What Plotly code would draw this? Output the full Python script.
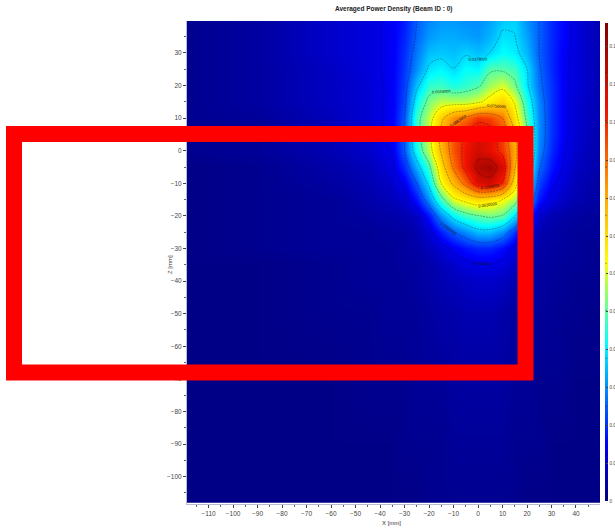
import numpy as np
import plotly.graph_objects as go

x_mm = [-119, -90, -60, -45, -35, -30, -25, -20, -15, -10, -5, 0, 5, 10, 15, 20, 25, 30, 35, 40, 50]
z_mm = [40, 35, 30, 25, 20, 15, 10, 5, 0, -5, -10, -15, -20, -25, -30, -35, -40, -50, -70, -90, -108]
# Power density, in thousandths
density_milli = [
    [2, 4, 9, 11, 14, 18, 25, 29, 31, 31, 30, 30, 32, 36, 37, 30, 25, 19, 15, 11, 6],
    [2, 4, 9, 11, 14, 19, 26, 31, 33, 33, 32, 31, 34, 39, 38, 32, 25, 19, 15, 11, 6],
    [2, 4, 9, 11, 14, 20, 28, 35, 36, 35, 37, 35, 38, 42, 40, 34, 25, 19, 14, 11, 6],
    [2, 4, 8, 11, 14, 21, 30, 39, 41, 38, 42, 41, 49, 49, 47, 38, 26, 19, 14, 11, 6],
    [2, 4, 8, 10, 14, 22, 36, 46, 47, 44, 46, 49, 56, 60, 52, 39, 27, 20, 14, 11, 6],
    [2, 4, 8, 10, 14, 23, 42, 53, 58, 58, 58, 61, 67, 72, 62, 44, 29, 20, 14, 10, 6],
    [2, 3, 7, 10, 14, 25, 47, 58, 73, 85, 90, 98, 96, 88, 68, 48, 30, 20, 14, 10, 6],
    [2, 3, 7, 10, 14, 26, 46, 60, 79, 94, 102, 108, 106, 95, 76, 52, 30, 20, 14, 10, 5],
    [2, 3, 6, 9, 13, 25, 43, 58, 77, 94, 104, 110, 106, 98, 80, 53, 29, 19, 13, 9, 5],
    [1, 2, 5, 7, 11, 20, 34, 48, 70, 90, 104, 116, 119, 108, 77, 48, 26, 17, 12, 8, 5],
    [1, 2, 4, 6, 9, 14, 25, 40, 63, 78, 92, 108, 110, 100, 68, 42, 22, 14, 10, 7, 4],
    [1, 2, 3, 5, 7, 9, 17, 30, 47, 61, 66, 70, 68, 63, 56, 34, 17, 11, 8, 6, 4],
    [1, 2, 3, 4, 5, 6, 8, 17, 30, 41, 47, 50, 52, 50, 38, 20, 9, 6, 5, 4, 3],
    [1, 2, 3, 3, 4, 4, 6, 10, 18, 25, 30, 35, 35, 30, 20, 11, 6, 5, 4, 3, 3],
    [1, 2, 3, 3, 3, 4, 5, 7, 10, 14, 17, 19, 19, 16, 11, 7, 5, 4, 4, 3, 2],
    [1, 1, 2, 3, 3, 4, 4, 5, 7, 9, 11, 12, 12, 11, 8, 5, 4, 4, 3, 3, 2],
    [1, 1, 2, 3, 3, 3, 4, 5, 6, 7, 8, 9, 9, 8, 6, 4, 4, 3, 3, 2, 2],
    [1, 1, 2, 2, 3, 3, 3, 4, 5, 5, 6, 6, 6, 5, 4, 3, 3, 3, 2, 2, 1],
    [1, 1, 1, 2, 2, 2, 3, 3, 3, 4, 4, 4, 4, 4, 3, 3, 2, 2, 2, 1, 1],
    [1, 1, 1, 1, 1, 2, 2, 2, 2, 3, 3, 3, 3, 3, 2, 2, 2, 1, 1, 1, 1],
    [1, 1, 1, 1, 1, 1, 1, 2, 2, 2, 2, 2, 2, 2, 2, 1, 1, 1, 1, 1, 1],
]
colorbar_ticks = [0, 0.01, 0.02, 0.03, 0.04, 0.05, 0.06, 0.07, 0.08, 0.09, 0.10, 0.11, 0.12]
# Only the visible start of each label can be read in the picture
colorbar_labels = ["0", "0.0", "0.0", "0.0", "0.0", "0.0", "0.0", "0.0", "0.0", "0.0", "0.1", "0.1", "0.1"]
title_text = "Averaged Power Density (Beam ID : 0)"

density = np.array(density_milli) / 1000.0
W, H = 615, 530
L, R, T, B = 187, 600, 21, 504
FONT = "Liberation Sans"

scale = [
    [0.0, "#00007f"], [0.12, "#0000ff"], [0.33, "#00ffff"], [0.42, "#7fff7f"],
    [0.50, "#ffff00"], [0.65, "#ffa000"], [0.82, "#f01000"], [1.0, "#7f0000"],
]

fig = go.Figure(go.Contour(
    x=x_mm, y=z_mm, z=density, zmin=0, zmax=0.1263,
    colorscale=scale, autocontour=False,
    contours=dict(start=0.0126, end=0.1134, size=0.0126, coloring="heatmap",
                  showlabels=True, labelfont=dict(size=4, color="#111111", family=FONT),
                  labelformat=".7f"),
    line=dict(color="rgba(0,0,0,0.6)", width=0.5, dash="2px,1px", smoothing=1),
    colorbar=dict(x=(604.5 - L) / (R - L), xanchor="left", xref="paper",
                  y=(B - 501) / (B - T), yanchor="bottom",
                  len=478 / (B - T), lenmode="fraction", thickness=2.5, outlinewidth=0, borderwidth=0,
                  tickmode="array", tickvals=colorbar_ticks, ticktext=colorbar_labels,
                  ticks="inside", ticklen=2, tickcolor="#444444", xpad=0, ypad=0,
                  tickfont=dict(size=4.5, color="#444444", family=FONT)),
))


def px_x(p):
    return (p - L) / (R - L)


def px_y(p):
    return (B - p) / (B - T)


axis = dict(showgrid=False, zeroline=False, ticks="outside", ticklen=3, tickcolor="#444444",
            tickfont=dict(size=6.5, color="#444444", family=FONT), dtick=10,
            minor=dict(dtick=5, ticks="outside", ticklen=2, tickcolor="#666666"),
            showline=True, linecolor="#b8bcd0", linewidth=1)
fig.update_layout(
    width=W, height=H, paper_bgcolor="white", plot_bgcolor="white",
    margin=dict(l=L, r=W - R, t=T, b=H - B, autoexpand=False, pad=0),
    xaxis=dict(axis, range=[-118.8, 49.8], tick0=0),
    yaxis=dict(axis, range=[-108.4, 39.8], tick0=0),
    showlegend=False,
    shapes=[dict(type="rect", xref="paper", yref="paper",
                 x0=px_x(14), x1=px_x(525.5), y0=px_y(372.5), y1=px_y(134),
                 line=dict(color="#ff0000", width=16), fillcolor="rgba(0,0,0,0)", layer="above")],
    annotations=[
        dict(text="<b>" + title_text + "</b>", xref="paper", yref="paper", x=px_x(394), y=px_y(9),
             showarrow=False, xanchor="center", yanchor="middle",
             font=dict(size=6.5, color="#222222", family=FONT)),
        dict(text="X [mm]", xref="paper", yref="paper", x=px_x(391), y=px_y(523),
             showarrow=False, xanchor="center", yanchor="middle",
             font=dict(size=6, color="#333333", family=FONT)),
        dict(text="Z [mm]", xref="paper", yref="paper", x=px_x(170), y=px_y(265), textangle=-90,
             showarrow=False, xanchor="center", yanchor="middle",
             font=dict(size=6, color="#333333", family=FONT)),
    ],
)
fig.write_html("out.html", config={"displayModeBar": False},
               post_script="document.body.style.margin='0';document.documentElement.style.overflow='hidden';")
